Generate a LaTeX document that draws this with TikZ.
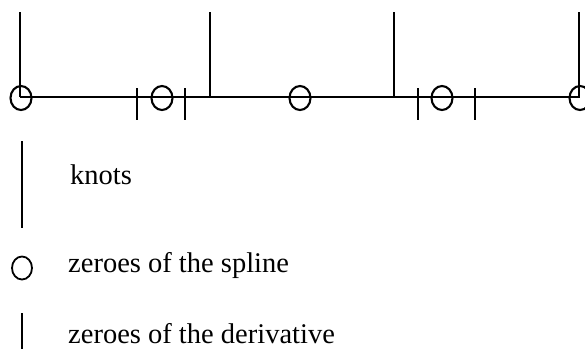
\documentclass[tikz,border=0pt]{standalone}
\usepackage{fontspec}
\setmainfont{Liberation Serif}
\usetikzlibrary{shapes.geometric}
\begin{document}
\begin{tikzpicture}[x=1pt,y=-1pt,
  stroke/.style={line width=2.3pt},
  zero/.style={draw,ellipse,line width=2.1pt,inner sep=0pt,minimum width=21pt,minimum height=24pt},
  legendzero/.style={draw,ellipse,line width=1.8pt,inner sep=0pt,minimum width=20pt,minimum height=23pt},
  label/.style={anchor=base west,inner sep=0pt,font=\fontsize{28.5}{34}\selectfont}]
\useasboundingbox (0,0) rectangle (585,348);
\begin{scope}
\clip (0,0) rectangle (585,348);
% main axis
\coordinate (a0) at (20,97);
\coordinate (a1) at (580,97);
\draw[stroke] (a0) -- (a1);
% knots
\foreach \i/\x in {1/20,2/210,3/394,4/579}{
  \coordinate (kt\i) at (\x,12);
  \coordinate (kb\i) at (\x,97);
  \draw[stroke] (kt\i) -- (kb\i);
}
% zeros of the spline
\foreach \i/\x in {1/21,2/162,3/300,4/442,5/580}{
  \node[zero] (z\i) at (\x,98) {};
}
% zeros of the derivative
\foreach \i/\x in {1/137,2/185,3/418,4/475}{
  \coordinate (dt\i) at (\x,88);
  \coordinate (db\i) at (\x,120);
  \draw[stroke] (dt\i) -- (db\i);
}
% legend
\coordinate (lk1) at (22,141);
\coordinate (lk2) at (22,228);
\draw[stroke] (lk1) -- (lk2);
\node[label] (tk) at (70,184) {knots};
\node[legendzero] (lz) at (22,268) {};
\node[label] (tz) at (68,272) {zeroes of the spline};
\coordinate (ld1) at (22,313);
\coordinate (ld2) at (22,352);
\draw[stroke] (ld1) -- (ld2);
\node[label] (td) at (68,343) {zeroes of the derivative};
\end{scope}
\end{tikzpicture}
\end{document}
